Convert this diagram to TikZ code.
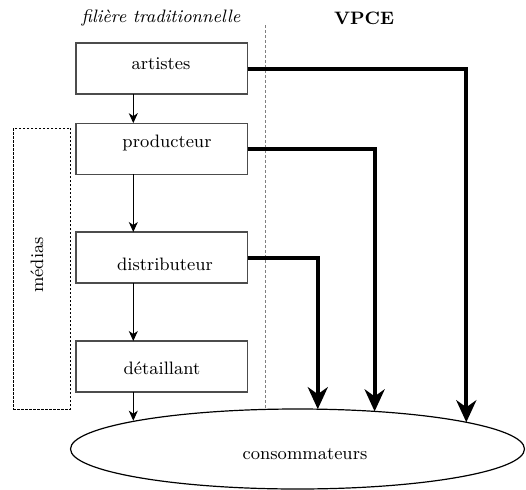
\documentclass[tikz,border=0pt]{standalone}
\usetikzlibrary{arrows.meta,shapes.geometric}
\begin{document}
\begin{tikzpicture}[x=0.5pt,y=-0.5pt,
  font=\fontsize{9}{11}\selectfont,
  box/.style={draw=black!70,line width=0.6pt,minimum width=85.75pt,minimum height=25.5pt,inner sep=0pt,outer sep=0pt},
  lbl/.style={inner sep=0pt},
  thinarrow/.style={line width=0.5pt,-{Stealth[length=5pt,width=4.5pt,inset=1.5pt]}},
  bigarrow/.style={line width=2pt,-{Stealth[length=11pt,width=10pt,inset=3.5pt]}}]
\useasboundingbox (0,0) rectangle (526,489);
% titles
\node[lbl] (t1) at (161,18) {\itshape filière traditionnelle};
\node[lbl] (t2) at (364,18) {\bfseries VPCE};
% separator
\coordinate (vtop) at (265,25);
% consumers ellipse
\node[ellipse,draw,line width=0.6pt,minimum width=227pt,minimum height=40pt,inner sep=0pt,outer sep=0pt] (cons) at (297.5,449) {};
\node[lbl] (tcons) at (305,454) {consommateurs};
\draw[gray,line width=0.4pt,dash pattern=on 1.5pt off 1pt] (vtop) -- (vtop |- cons.north);
% boxes
\node[box] (art) at (161.75,68.5) {};
\node[lbl] (tart) at (161,64) {artistes};
\node[box] (prod) at (161.75,148.65) {};
\node[lbl] (tprod) at (167,143) {producteur};
\node[box] (dist) at (161.75,257.5) {};
\node[lbl] (tdist) at (165,264) {distributeur};
\node[box] (det) at (161.75,366.5) {};
\node[lbl] (tdet) at (162,368) {détaillant};
% media box
\node[draw,dash pattern=on 1.2pt off 0.8pt,line width=0.5pt,minimum width=28.7pt,minimum height=140.5pt,inner sep=0pt,outer sep=0pt] (med) at (42,268.5) {};
\node[lbl,rotate=90] (tmed) at (37,265) {médias};
% thin arrows
\coordinate (ax) at (133.3,0);
\draw[thinarrow] (ax |- art.south) -- (ax |- prod.north);
\draw[thinarrow] (ax |- prod.south) -- (ax |- dist.north);
\draw[thinarrow] (ax |- dist.south) -- (ax |- det.north);
\draw[thinarrow] (ax |- det.south) -- (ax |- cons.170.47);
% thick arrows
\draw[bigarrow] (art.east) -| (cons.9.06);
\draw[bigarrow] (prod.east) -| (cons.26.06);
\draw[bigarrow] (dist.east) -| (cons.63.7);
\end{tikzpicture}
\end{document}
